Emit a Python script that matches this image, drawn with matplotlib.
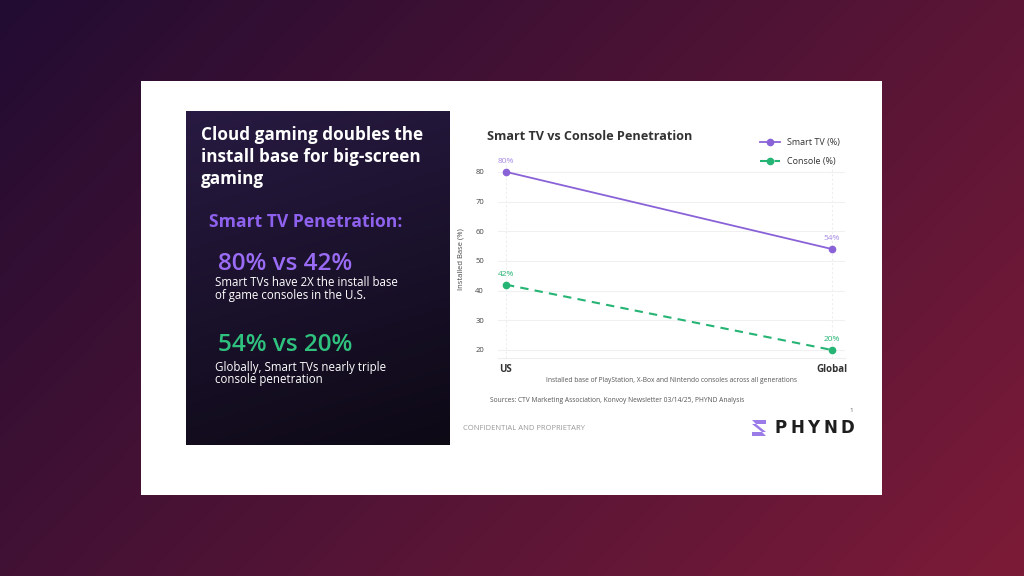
import matplotlib.pyplot as plt
from matplotlib.patches import Polygon
import numpy as np

# Donnees
regions = ['US', 'Global']
smart_tv = [80, 54]
console = [42, 20]
yticks = [20, 30, 40, 50, 60, 70, 80]

W, H = 1024, 576
FONT = ['Open Sans', 'DejaVu Sans']
PURPLE = '#8a62d8'
GREEN = '#25b474'


def fx(px):
    return px / W


def fy(py):
    return 1 - py / H


fig = plt.figure(figsize=(10.24, 5.76), dpi=100)

# ------ Fond degrade ------
bg = fig.add_axes([0, 0, 1, 1])
gx, gy = np.meshgrid(np.linspace(0, 1, 256), np.linspace(0, 1, 144))
t = np.clip(0.65 * gx + 0.35 * gy, 0, 1)[..., None]
c0 = np.array([0x22, 0x0c, 0x32]) / 255
c1 = np.array([0x7c, 0x1b, 0x38]) / 255
bg.imshow(c0 * (1 - t) + c1 * t, aspect='auto', extent=[0, 1, 0, 1], origin='upper')
bg.set_xlim(0, 1)
bg.set_ylim(0, 1)
bg.axis('off')

# Carte blanche
card = fig.add_axes([fx(141), fy(495), fx(882 - 141), (495 - 81) / H])
card.set_facecolor('white')
card.set_xticks([])
card.set_yticks([])
for s in card.spines.values():
    s.set_visible(False)

# Panneau sombre
panel = fig.add_axes([fx(186), fy(445), fx(450 - 186), (445 - 111) / H])
py_, px_ = np.meshgrid(np.linspace(0, 1, 100), np.linspace(0, 1, 100), indexing='ij')
tp = np.clip(0.8 * py_ + 0.2 * px_, 0, 1)[..., None]
p0 = np.array([0x28, 0x1a, 0x42]) / 255
p1 = np.array([0x0d, 0x09, 0x15]) / 255
panel.imshow(p0 * (1 - tp) + p1 * tp, aspect='auto', extent=[0, 1, 0, 1], origin='upper')
panel.axis('off')

# Textes du panneau
for i, ligne in enumerate(['Cloud gaming doubles the', 'install base for big-screen', 'gaming']):
    fig.text(fx(201), fy(135 + 22 * i), ligne, color='white', fontsize=12.3,
             fontweight='bold', family=FONT, va='center')
fig.text(fx(209), fy(222), 'Smart TV Penetration:', color='#8e62ee', fontsize=12.6,
         fontweight='bold', family=FONT, va='center')
fig.text(fx(218), fy(264), '80% vs 42%', color='#9a6cf5', fontsize=17.5,
         fontweight='semibold', family=FONT, va='center')
fig.text(fx(215), fy(283), 'Smart TVs have 2X the install base', color='white',
         fontsize=8.3, family=FONT, va='center')
fig.text(fx(215), fy(296), 'of game consoles in the U.S.', color='white',
         fontsize=8.3, family=FONT, va='center')
fig.text(fx(218), fy(345), '54% vs 20%', color='#2fc27f', fontsize=17.5,
         fontweight='semibold', family=FONT, va='center')
fig.text(fx(215), fy(367), 'Globally, Smart TVs nearly triple', color='white',
         fontsize=8.3, family=FONT, va='center')
fig.text(fx(215), fy(380), 'console penetration', color='white',
         fontsize=8.3, family=FONT, va='center')

# ------ Graph ------
ax = fig.add_axes([fx(498), fy(358), fx(845 - 498), (358 - 160) / H])
ax.set_facecolor('none')
x = np.arange(len(regions))
ax.plot(x, smart_tv, color=PURPLE, lw=1.3, marker='o', ms=4.5, label='Smart TV (%)')
ax.plot(x, console, color=GREEN, lw=1.5, ls=(0, (4, 3)), marker='o', ms=4.5, label='Console (%)')
for xi, v in zip(x, smart_tv):
    ax.annotate(f'{v}%', (xi, v), xytext=(0, 5), textcoords='offset points',
                ha='center', va='bottom', color='#a78be6', fontsize=6, family=FONT)
for xi, v in zip(x, console):
    ax.annotate(f'{v}%', (xi, v), xytext=(0, 5), textcoords='offset points',
                ha='center', va='bottom', color=GREEN, fontsize=6, family=FONT)

ax.set_xlim(-0.0245, 1.04)
ax.set_ylim(17.3, 84.0)
ax.set_yticks(yticks)
ax.set_yticklabels([str(v) for v in yticks], fontsize=5.5, color='#444444', family=FONT)
ax.set_xticks(x)
ax.set_xticklabels(regions, fontsize=7, fontweight='bold', color='#333333', family=FONT)
ax.tick_params(length=0, pad=4)
ax.tick_params(axis='y', pad=10)
ax.grid(True, axis='y', color='#f0f0f0', lw=0.8)
ax.grid(True, axis='x', color='#eeeeee', lw=0.8, ls=(0, (2, 2)))
for s in ['top', 'right', 'left']:
    ax.spines[s].set_visible(False)
ax.spines['bottom'].set_color('#eeeeee')
ax.set_ylabel('Installed Base (%)', fontsize=5.5, color='#444444', family=FONT, labelpad=8)
ax.set_xlabel('Installed base of PlayStation, X-Box and Nintendo consoles across all generations',
              fontsize=4.8, color='#555555', family=FONT, labelpad=2)

# Legende
ax.legend(loc='upper left', bbox_to_anchor=(fx(752 - 498) / fx(347), 1 + 30 / 198),
          frameon=False, prop={'family': FONT, 'size': 6.5},
          handlelength=2.2, labelspacing=1.1, labelcolor='#333333')

# Titre
fig.text(fx(487), fy(137), 'Smart TV vs Console Penetration', fontsize=9.1,
         fontweight='bold', color='#333333', family=FONT, va='center')

fig.text(fx(490), fy(400), 'Sources: CTV Marketing Association, Konvoy Newsletter 03/14/25, PHYND Analysis',
         fontsize=4.8, color='#555555', family=FONT, va='center')
fig.text(fx(463), fy(428), 'CONFIDENTIAL AND PROPRIETARY', fontsize=5.5,
         color='#9a9a9a', family=FONT, va='center')
fig.text(fx(849), fy(411), '1', fontsize=4.5, color='#666666', family=FONT, va='center')

# Logo
logo_shapes = [
    [(752, 420), (766, 420), (766, 424), (756, 424)],
    [(752, 436), (766, 436), (762, 432), (752, 432)],
    [(752, 424), (756, 424), (766, 432), (762, 432)],
]
for pts in logo_shapes:
    fig.add_artist(Polygon([(fx(px), fy(py)) for px, py in pts], closed=True,
                           facecolor='#9b7be8', edgecolor='none',
                           transform=fig.transFigure, zorder=10))
for i, lettre in enumerate('PHYND'):
    fig.text(fx(774 + 16.5 * i), fy(428), lettre, fontsize=12, fontweight='bold',
             color='#1e1e1e', family='DejaVu Sans', va='center')

plt.savefig('out.png', dpi=100)
